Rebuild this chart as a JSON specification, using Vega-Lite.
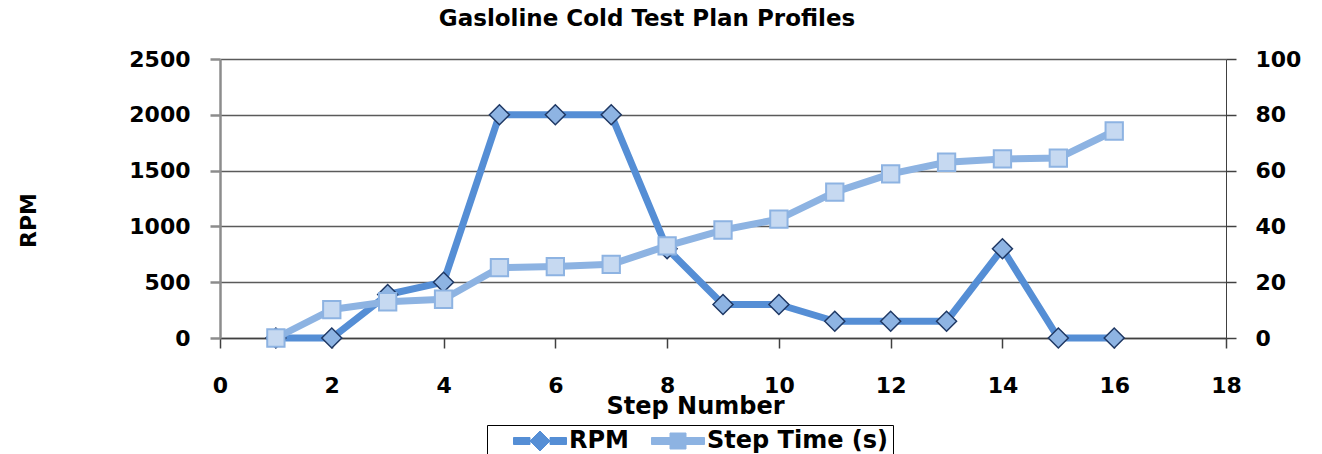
{
  "$schema": "https://vega.github.io/schema/vega-lite/v6.json",
  "width": 1006,
  "height": 279,
  "autosize": "none",
  "padding": {"left": 220, "top": 59, "right": 96, "bottom": 116},
  "background": "white",
  "config": {"view": {"stroke": null}, "font": "DejaVu Sans"},
  "title": {
    "text": "Gasloline Cold Test Plan Profiles",
    "fontSize": 23,
    "fontWeight": "bold",
    "font": "DejaVu Sans",
    "color": "black",
    "anchor": "middle",
    "frame": "group",
    "dx": -76,
    "offset": -1,
    "baseline": "alphabetic"
  },
  "data": {
    "values": [
      {"step": 1, "rpm": 0, "time": 0},
      {"step": 2, "rpm": 0, "time": 10.2},
      {"step": 3, "rpm": 390, "time": 13.0},
      {"step": 4, "rpm": 500, "time": 13.9},
      {"step": 5, "rpm": 2000, "time": 25.2},
      {"step": 6, "rpm": 2000, "time": 25.6},
      {"step": 7, "rpm": 2000, "time": 26.4},
      {"step": 8, "rpm": 800, "time": 33.0},
      {"step": 9, "rpm": 300, "time": 38.7},
      {"step": 10, "rpm": 300, "time": 42.6},
      {"step": 11, "rpm": 150, "time": 52.3},
      {"step": 12, "rpm": 150, "time": 58.8},
      {"step": 13, "rpm": 150, "time": 63.0},
      {"step": 14, "rpm": 800, "time": 64.2},
      {"step": 15, "rpm": 0, "time": 64.5},
      {"step": 16, "rpm": 0, "time": 74.2}
    ]
  },
  "encoding": {
    "x": {
      "field": "step",
      "type": "quantitative",
      "scale": {"domain": [0, 18], "nice": false, "zero": false},
      "axis": {
        "values": [0, 2, 4, 6, 8, 10, 12, 14, 16, 18],
        "format": "d",
        "labelFlush": false,
        "labelOverlap": false,
        "grid": false,
        "domainColor": "#404040",
        "domainWidth": 1.5,
        "tickColor": "#404040",
        "tickWidth": 1.5,
        "tickSize": 10,
        "labelFont": "DejaVu Sans",
        "labelFontSize": 22,
        "labelFontWeight": "bold",
        "labelColor": "black",
        "labelPadding": 27,
        "title": "Step Number",
        "titleFont": "DejaVu Sans",
        "titleFontSize": 24,
        "titleFontWeight": "bold",
        "titleColor": "black",
        "titleX": 475,
        "titleY": 75,
        "titleBaseline": "alphabetic"
      }
    }
  },
  "layer": [
    {
      "encoding": {
        "y": {
          "field": "rpm",
          "type": "quantitative",
          "scale": {"domain": [0, 2500], "nice": false},
          "axis": {
            "orient": "left",
            "values": [0, 500, 1000, 1500, 2000, 2500],
            "format": "d",
            "labelFlush": false,
            "grid": true,
            "gridColor": "#5a5a5a",
            "gridWidth": 1.5,
            "domainColor": "#8c8c8c",
            "domainWidth": 2.5,
            "tickColor": "#8c8c8c",
            "tickWidth": 2.5,
            "tickSize": 10,
            "labelFont": "DejaVu Sans",
            "labelFontSize": 22,
            "labelFontWeight": "bold",
            "labelColor": "black",
            "labelPadding": 20,
            "title": "RPM",
            "titleFont": "DejaVu Sans",
            "titleFontSize": 22,
            "titleFontWeight": "bold",
            "titleColor": "black",
            "titleX": -192,
            "titleY": 161,
            "titleAngle": -90,
            "titleAlign": "center",
            "titleBaseline": "middle"
          }
        }
      },
      "layer": [
        {
          "mark": {"type": "line", "strokeWidth": 7, "strokeJoin": "round"},
          "encoding": {
            "color": {
              "datum": "RPM",
              "type": "nominal",
              "scale": {"domain": ["RPM", "Step Time (s)"], "range": ["#558ED5", "#8DB3E2"]},
              "legend": {
                "orient": "none",
                "legendX": 267,
                "legendY": 366,
                "direction": "horizontal",
                "title": null,
                "strokeColor": "black",
                "fillColor": "white",
                "padding": 4,
                "symbolSize": 400,
                "symbolOffset": 37,
                "labelOffset": 17,
                "columnPadding": 0,
                "labelLimit": 400,
                "labelFont": "DejaVu Sans",
                "labelFontSize": 24,
                "labelFontWeight": "bold",
                "labelColor": "black",
                "encode": {
                  "symbols": {
                    "update": {
                      "shape": {"signal": "datum.value === 'RPM' ? 'M-2.65,-0.35H-1V0.35H-2.65Z M1,-0.35H2.65V0.35H1Z M0,-1L1,0L0,1L-1,0Z' : 'M-2.65,-0.35H-0.8V0.35H-2.65Z M0.8,-0.35H2.65V0.35H0.8Z M-0.8,-0.8H0.8V0.8H-0.8Z'"},
                      "fill": {"signal": "datum.value === 'RPM' ? '#558ED5' : '#8DB3E2'"},
                      "stroke": {"signal": "datum.value === 'RPM' ? '#1F3864' : '#8DB3E2'"},
                      "strokeWidth": {"value": 1},
                      "opacity": {"value": 1}
                    }
                  }
                }
              }
            }
          }
        },
        {
          "mark": {"type": "point", "shape": "diamond", "filled": true, "fill": "#8EB4E3", "stroke": "#1F3864", "strokeWidth": 1.5, "size": 400, "opacity": 1}
        }
      ]
    },
    {
      "encoding": {
        "y": {
          "field": "time",
          "type": "quantitative",
          "scale": {"domain": [0, 100], "nice": false},
          "axis": {
            "orient": "right",
            "values": [0, 20, 40, 60, 80, 100],
            "format": "d",
            "labelFlush": false,
            "grid": false,
            "domainColor": "#404040",
            "domainWidth": 1,
            "tickColor": "#404040",
            "tickWidth": 1.5,
            "tickSize": 10,
            "labelFont": "DejaVu Sans",
            "labelFontSize": 22,
            "labelFontWeight": "bold",
            "labelColor": "black",
            "labelPadding": 19,
            "title": null
          }
        }
      },
      "layer": [
        {
          "mark": {"type": "line", "strokeWidth": 7, "strokeJoin": "round"},
          "encoding": {
            "color": {"datum": "Step Time (s)", "type": "nominal"}
          }
        },
        {
          "mark": {"type": "point", "shape": "square", "filled": true, "fill": "#C6D9F1", "stroke": "#8DB3E2", "strokeWidth": 2, "size": 300, "opacity": 1}
        }
      ]
    }
  ],
  "resolve": {"scale": {"y": "independent"}}
}
